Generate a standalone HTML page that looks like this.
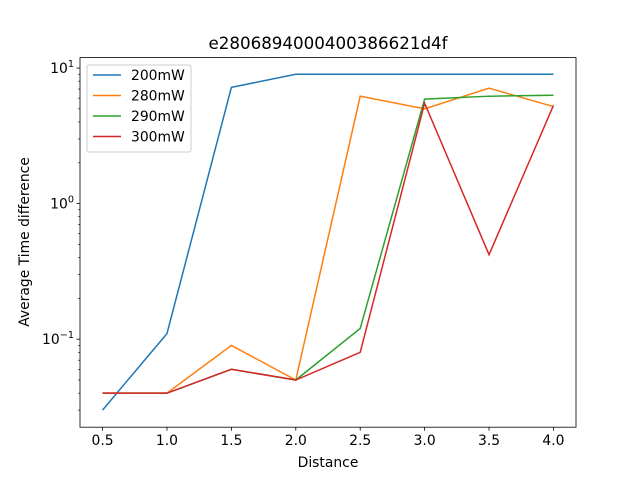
<!DOCTYPE html>
<html><head><meta charset="utf-8"><style>
body{margin:0;background:#fff;}
svg text{font-family:"DejaVu Sans","Liberation Sans",sans-serif;}
</style></head><body>
<svg id="chart" width="640" height="480" xmlns="http://www.w3.org/2000/svg">
<rect width="640" height="480" fill="#fff"/>
<text x="328" y="49" text-anchor="middle" font-size="16.7">e2806894000400386621d4f</text>
<g id="plot"></g>
<text x="328" y="467" text-anchor="middle" font-size="13.9">Distance</text>
<text transform="translate(29,242) rotate(-90)" text-anchor="middle" font-size="13.9">Average Time difference</text>
</svg>
<script>
const categories=[0.5,1.0,1.5,2.0,2.5,3.0,3.5,4.0];
const seriesNames=["200mW","280mW","290mW","300mW"];
const s200=[0.03,0.11,7.2,9,9,9,9,9];
const s280=[0.04,0.04,0.09,0.05,6.2,5,7.1,5.2];
const s290=[0.04,0.04,0.06,0.05,0.12,5.9,6.2,6.3];
const s300=[0.04,0.04,0.06,0.05,0.08,5.5,0.42,5.3];
const xTicks=["0.5","1.0","1.5","2.0","2.5","3.0","3.5","4.0"];
const yDecades=[-1,0,1];
const colors=["#1f77b4","#ff7f0e","#2ca02c","#d62728"];
const L=80,R=576,T=57.6,B=427.2,xmin=0.325,xmax=4.175,lmin=-1.649,lmax=1.077;
const X=v=>L+(v-xmin)/(xmax-xmin)*(R-L);
const Y=v=>B-(Math.log10(v)-lmin)/(lmax-lmin)*(B-T);
const ns="http://www.w3.org/2000/svg";
const g=document.getElementById('plot');
function mk(t,a){const e=document.createElementNS(ns,t);for(const k in a)e.setAttribute(k,a[k]);g.appendChild(e);return e;}
[s200,s280,s290,s300].forEach((s,i)=>{
 const p=mk('polyline',{points:s.map((v,j)=>X(categories[j])+','+Y(v)).join(' '),fill:'none',stroke:colors[i],'stroke-width':1.5});
 
 
});
const fr=mk('rect',{x:L,y:T,width:R-L,height:B-T,fill:'none',stroke:'#000','stroke-width':0.8});


xTicks.forEach((t,i)=>{
 const x=X(categories[i]);
 mk('line',{x1:x,x2:x,y1:B,y2:B+3.5,stroke:'#000','stroke-width':0.8});
 const tx=mk('text',{x:x,y:B+18,'text-anchor':'middle','font-size':13.9});tx.textContent=t;
 
 
});
for(let d=-2;d<=1;d++)for(let m=1;m<10;m++){
 const v=m*Math.pow(10,d),lv=Math.log10(v);
 if(lv<lmin||lv>lmax)continue;
 const y=Y(v);
 mk('line',{x1:L-(m==1?3.5:2),x2:L,y1:y,y2:y,stroke:'#000','stroke-width':m==1?0.8:0.6});
}
yDecades.forEach(d=>{
 const y=Y(Math.pow(10,d));
 const tx=mk('text',{x:L-6,y:y+5,'text-anchor':'end','font-size':13.9});
 
 
 tx.textContent='10';
 const sp=document.createElementNS(ns,'tspan');sp.setAttribute('dy','-6');sp.setAttribute('font-size','9.7');sp.textContent=String(d).replace('-','\u2212');tx.appendChild(sp);
});
const lg=mk('rect',{x:87,y:65,width:104,height:87,fill:'#fff',stroke:'#ccc',rx:2});


seriesNames.forEach((n,i)=>{
 const y=75+i*20.5;
 mk('line',{x1:93,x2:121,y1:y,y2:y,stroke:colors[i],'stroke-width':1.5});
 const t=mk('text',{x:131,y:y+5,'font-size':13.9});t.textContent=n;
 
 
});
</script>
</body></html>
